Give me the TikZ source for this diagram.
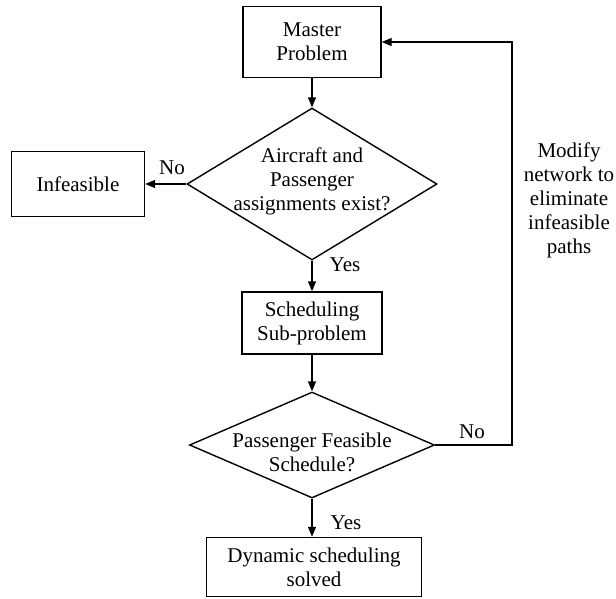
\documentclass[tikz,border=0pt]{standalone}
\usepackage{fontspec}
\setmainfont{Liberation Serif}
\usetikzlibrary{shapes.geometric,arrows.meta}
\begin{document}
\begin{tikzpicture}[x=1pt,y=-1pt,
  every node/.style={font=\fontsize{21}{24}\selectfont},
  flowbox/.style={draw, line width=1.4pt, rectangle, inner sep=0pt, align=center},
  decision/.style={draw, line width=1.4pt, diamond, inner sep=0pt},
  caption/.style={align=center, inner sep=0pt},
  flow/.style={line width=1.4pt, -{Triangle[length=10pt,width=8pt]}}]
\useasboundingbox (0,0) rectangle (616,598);

% process boxes and decisions
\node[flowbox, minimum width=138pt, minimum height=71pt] (master) at (312,42) {Master\\Problem};
\node[decision, minimum width=250pt, minimum height=152pt] (d1) at (312,184) {};
\node[caption] (d1text) at (312,181) {Aircraft and\\Passenger\\assignments exist?};
\node[flowbox, minimum width=133pt, minimum height=65pt] (infeas) at (78,184) {Infeasible};
\node[flowbox, minimum width=140pt, minimum height=62pt] (sched) at (312,323) {Scheduling\\Sub-problem};
\node[decision, minimum width=245pt, minimum height=106pt] (d2) at (312,445) {};
\node[caption] (d2text) at (312,452) {Passenger Feasible\\Schedule?};
\node[flowbox, minimum width=215pt, minimum height=59pt] (dyn) at (314,567) {Dynamic scheduling\\solved};
\node[caption] (modify) at (569,200) {Modify\\network to\\eliminate\\infeasible\\paths};

% connectors
\draw[flow] (master) -- (d1);
\draw[flow] (d1) -- (infeas);
\draw[flow] (d1) -- (sched);
\draw[flow] (sched) -- (d2);
\draw[flow] (d2.south) -- (d2.south |- dyn.north);
\coordinate (turn) at (512,445);
\draw[flow] (d2.east) -- (turn) |- (master.east);

% branch labels
\node[caption] (no1) at (172,168) {No};
\node[caption] (yes1) at (345,265) {Yes};
\node[caption] (no2) at (472,432) {No};
\node[caption] (yes2) at (346,523) {Yes};
\end{tikzpicture}
\end{document}
